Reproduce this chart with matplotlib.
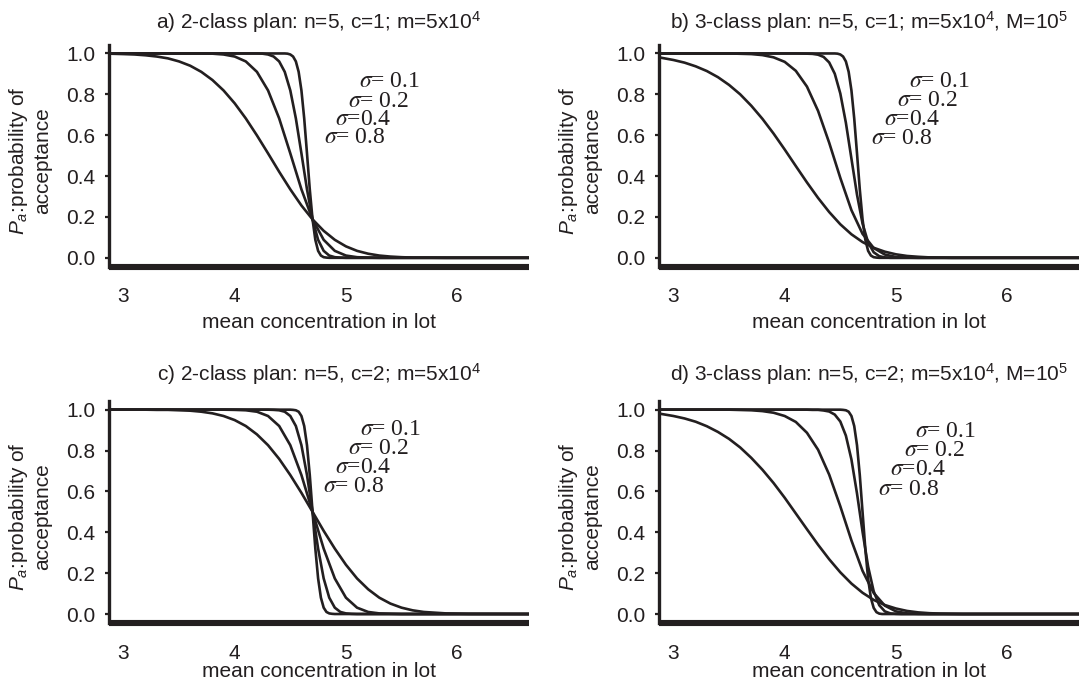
import matplotlib
matplotlib.use("Agg")
import matplotlib.pyplot as plt

plt.rcParams['font.family'] = ['Liberation Sans', 'DejaVu Sans']
plt.rcParams['mathtext.fontset'] = 'custom'
plt.rcParams['mathtext.rm'] = 'Liberation Sans'
plt.rcParams['mathtext.it'] = 'Liberation Sans:italic'
plt.rcParams['mathtext.bf'] = 'Liberation Sans:bold'

# ---- data ----
sigmas = ["0.1", "0.2", "0.4", "0.8"]
sigma_texts = [r"$\sigma$= 0.1", r"$\sigma$= 0.2", r"$\sigma$=0.4", r"$\sigma$= 0.8"]

x_s01 = [2.87, 4.40, 4.45, 4.475, 4.50, 4.525, 4.55, 4.575, 4.60, 4.625, 4.65, 4.675,
         4.70, 4.725, 4.75, 4.775, 4.80, 4.825, 4.85, 4.875, 4.90, 6.645]
x_s02 = [2.87, 4.10, 4.20, 4.25, 4.30, 4.35, 4.40, 4.45, 4.50, 4.55, 4.60, 4.65,
         4.70, 4.75, 4.80, 4.85, 4.90, 4.95, 5.00, 5.05, 5.10, 6.645]
x_s04 = [2.87, 3.50, 3.70, 3.80, 3.90, 4.00, 4.10, 4.20, 4.30, 4.40, 4.50, 4.60,
         4.70, 4.80, 4.90, 5.00, 5.10, 5.20, 5.30, 5.50, 6.645]
x_s08 = [2.87, 3.00, 3.10, 3.20, 3.30, 3.40, 3.50, 3.60, 3.70, 3.80, 3.90, 4.00,
         4.10, 4.20, 4.30, 4.40, 4.50, 4.60, 4.70, 4.80, 4.90, 5.00, 5.10, 5.20,
         5.30, 5.40, 5.50, 5.60, 5.70, 5.90, 6.10, 6.645]

# a) 2-class, c=1
a_s01 = [1.0, 1.0, 1.0, 0.999, 0.995, 0.985, 0.961, 0.910, 0.819, 0.682, 0.511, 0.335,
         0.188, 0.088, 0.034, 0.011, 0.003, 0.001, 0.0, 0.0, 0.0, 0.0]
a_s02 = [1.0, 1.0, 1.0, 0.999, 0.995, 0.985, 0.961, 0.910, 0.819, 0.682, 0.511, 0.335,
         0.188, 0.088, 0.034, 0.011, 0.003, 0.001, 0.0, 0.0, 0.0, 0.0]
a_s04 = [1.0, 1.0, 1.0, 0.999, 0.995, 0.985, 0.961, 0.910, 0.819, 0.682, 0.511, 0.335,
         0.188, 0.088, 0.034, 0.011, 0.003, 0.001, 0.0, 0.0, 0.0]
a_s08 = [0.999, 0.997, 0.995, 0.991, 0.985, 0.976, 0.961, 0.940, 0.910, 0.870,
         0.819, 0.756, 0.682, 0.599, 0.511, 0.421, 0.335, 0.256, 0.188, 0.132,
         0.088, 0.056, 0.034, 0.020, 0.011, 0.006, 0.003, 0.001, 0.001, 0.0, 0.0, 0.0]

# b) 3-class, c=1
b_s01 = [1.0, 1.0, 1.0, 0.999, 0.995, 0.985, 0.961, 0.910, 0.819, 0.682, 0.511, 0.335,
         0.187, 0.088, 0.034, 0.011, 0.003, 0.001, 0.0, 0.0, 0.0, 0.0]
b_s02 = [1.0, 1.0, 0.999, 0.998, 0.994, 0.983, 0.956, 0.901, 0.804, 0.661, 0.485, 0.309,
         0.167, 0.075, 0.027, 0.008, 0.002, 0.0, 0.0, 0.0, 0.0, 0.0]
b_s04 = [1.0, 1.0, 0.997, 0.992, 0.981, 0.959, 0.915, 0.838, 0.719, 0.563, 0.391, 0.233,
         0.117, 0.048, 0.016, 0.004, 0.001, 0.0, 0.0, 0.0, 0.0]
b_s08 = [0.981, 0.968, 0.955, 0.937, 0.914, 0.884, 0.846, 0.800, 0.744, 0.680,
         0.608, 0.530, 0.449, 0.369, 0.293, 0.224, 0.164, 0.115, 0.077, 0.049,
         0.030, 0.017, 0.009, 0.005, 0.002, 0.001, 0.0, 0.0, 0.0, 0.0, 0.0, 0.0]

# c) 2-class, c=2
c_s01 = [1.0, 1.0, 1.0, 1.0, 1.0, 0.999, 0.997, 0.990, 0.969, 0.920, 0.826, 0.680,
         0.500, 0.320, 0.174, 0.080, 0.031, 0.010, 0.003, 0.001, 0.0, 0.0]
c_s02 = [1.0, 1.0, 1.0, 1.0, 1.0, 0.999, 0.997, 0.990, 0.969, 0.920, 0.826, 0.680,
         0.500, 0.320, 0.174, 0.080, 0.031, 0.010, 0.003, 0.001, 0.0, 0.0]
c_s04 = [1.0, 1.0, 1.0, 1.0, 1.0, 0.999, 0.997, 0.990, 0.969, 0.920, 0.826, 0.680,
         0.500, 0.320, 0.174, 0.080, 0.031, 0.010, 0.003, 0.0, 0.0]
c_s08 = [1.0, 1.0, 1.0, 1.0, 0.999, 0.999, 0.997, 0.995, 0.990, 0.982,
         0.969, 0.949, 0.920, 0.879, 0.826, 0.759, 0.680, 0.593, 0.500, 0.407,
         0.320, 0.241, 0.174, 0.121, 0.080, 0.051, 0.031, 0.018, 0.010, 0.003, 0.001, 0.0]

# d) 3-class, c=2
d_s01 = [1.0, 1.0, 1.0, 1.0, 1.0, 0.999, 0.997, 0.990, 0.969, 0.920, 0.826, 0.680,
         0.498, 0.317, 0.172, 0.078, 0.030, 0.009, 0.002, 0.0, 0.0, 0.0]
d_s02 = [1.0, 1.0, 1.0, 0.999, 0.999, 0.996, 0.991, 0.976, 0.942, 0.873, 0.756, 0.590,
         0.402, 0.232, 0.111, 0.043, 0.013, 0.003, 0.001, 0.0, 0.0, 0.0]
d_s04 = [1.0, 1.0, 0.997, 0.993, 0.985, 0.969, 0.940, 0.887, 0.804, 0.682, 0.527, 0.360,
         0.211, 0.103, 0.041, 0.013, 0.003, 0.001, 0.0, 0.0, 0.0]
d_s08 = [0.981, 0.969, 0.957, 0.941, 0.919, 0.891, 0.857, 0.815, 0.764, 0.706,
         0.641, 0.569, 0.492, 0.415, 0.339, 0.268, 0.204, 0.149, 0.104, 0.069,
         0.044, 0.027, 0.015, 0.008, 0.004, 0.002, 0.001, 0.0, 0.0, 0.0, 0.0, 0.0]

titles = [r"a) 2-class plan: n=5, c=1; m=5x10$^4$",
          r"b) 3-class plan: n=5, c=1; m=5x10$^4$, M=10$^5$",
          r"c) 2-class plan: n=5, c=2; m=5x10$^4$",
          r"d) 3-class plan: n=5, c=2; m=5x10$^4$, M=10$^5$"]

xticks = [3, 4, 5, 6]
yticks = [0.0, 0.2, 0.4, 0.6, 0.8, 1.0]
ytick_labels = ["0.0", "0.2", "0.4", "0.6", "0.8", "1.0"]
xlabel = "mean concentration in lot"
ylabel = r"$P_a$:probability of" + "\nacceptance"

# label anchor positions (data coords, left/baseline) per panel
lab_x = {"a": [5.12, 5.02, 4.90, 4.80], "b": [5.12, 5.01, 4.89, 4.78],
         "c": [5.13, 5.02, 4.90, 4.79], "d": [5.17, 5.07, 4.95, 4.84]}
lab_y = {"a": [0.835, 0.739, 0.649, 0.560], "b": [0.835, 0.742, 0.650, 0.555],
         "c": [0.875, 0.785, 0.690, 0.595], "d": [0.865, 0.772, 0.680, 0.580]}

# ---- figure ----
INK = "#231f20"
FS = 15
fig = plt.figure(figsize=(10.81, 6.82), dpi=100)

positions = {"a": [0.1008, 0.6091, 0.3885, 0.3245],
             "b": [0.6096, 0.6091, 0.3885, 0.3245],
             "c": [0.1008, 0.0868, 0.3885, 0.3245],
             "d": [0.6096, 0.0868, 0.3885, 0.3245]}
panel_data = {"a": [a_s01, a_s02, a_s04, a_s08],
              "b": [b_s01, b_s02, b_s04, b_s08],
              "c": [c_s01, c_s02, c_s04, c_s08],
              "d": [d_s01, d_s02, d_s04, d_s08]}
xs = [x_s01, x_s02, x_s04, x_s08]
title_pad = {"a": 12, "b": 12, "c": 15, "d": 15}
xlabel_y = {"a": -0.279, "b": -0.279, "c": -0.245, "d": -0.245}

for key, title in zip(["a", "b", "c", "d"], titles):
    ax = fig.add_axes(positions[key])
    for xv, yv in zip(xs, panel_data[key]):
        ax.plot(xv, yv, color=INK, lw=1.9, solid_joinstyle="round")
    ax.set_xlim(2.87, 6.645)
    ax.set_ylim(-0.043, 1.04)
    for s in ["top", "right"]:
        ax.spines[s].set_visible(False)
    ax.spines["left"].set_linewidth(2.4)
    ax.spines["left"].set_color(INK)
    ax.spines["bottom"].set_linewidth(4.4)
    ax.spines["bottom"].set_color(INK)
    ax.spines["bottom"].set_capstyle("butt")
    ax.set_xticks(xticks)
    ax.set_xticklabels([str(t) for t in xticks])
    ax.set_yticks(yticks)
    ax.set_yticklabels(ytick_labels)
    ax.tick_params(axis="x", length=0, pad=15, labelsize=FS, colors=INK)
    ax.tick_params(axis="y", length=3, width=1.6, pad=7, labelsize=FS, colors=INK)
    ax.set_title(title, fontsize=FS, color=INK, pad=title_pad[key])
    ax.set_xlabel(xlabel, fontsize=FS, color=INK)
    ax.xaxis.label.set_va("baseline")
    ax.xaxis.set_label_coords(0.5, xlabel_y[key])
    ax.set_ylabel(ylabel, fontsize=FS, color=INK, multialignment="center")
    ax.yaxis.label.set_va("center")
    ax.yaxis.set_label_coords(-0.19, 0.48)
    for txt, lx, ly in zip(sigma_texts, lab_x[key], lab_y[key]):
        ax.text(lx, ly, txt, fontsize=17, family="Liberation Serif",
                math_fontfamily="stix", color=INK, ha="left", va="baseline")

fig.savefig("out.png", dpi=100)
